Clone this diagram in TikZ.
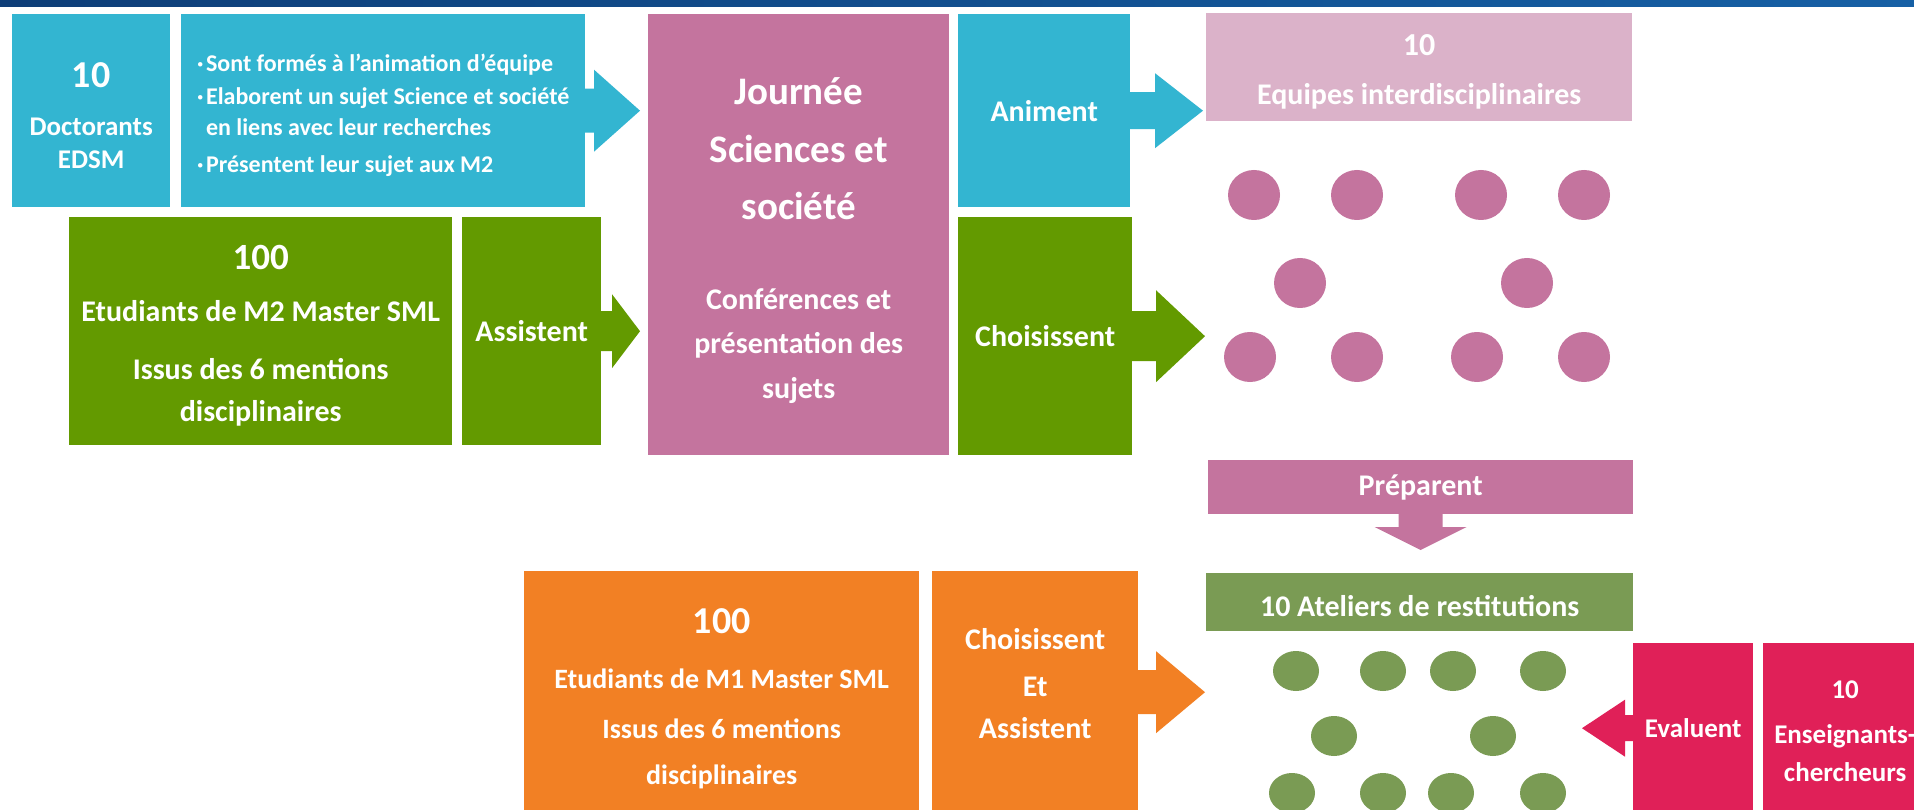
\documentclass[tikz,border=0pt]{standalone}
\usepackage{fontspec}
\setmainfont{Carlito}
\usetikzlibrary{calc,shapes.geometric}
\definecolor{cyanc}{RGB}{51,181,209}
\definecolor{grnc}{RGB}{99,154,0}
\definecolor{mauvec}{RGB}{196,116,158}
\definecolor{lpinkc}{RGB}{219,178,201}
\definecolor{orgc}{RGB}{242,128,36}
\definecolor{olivec}{RGB}{122,155,84}
\definecolor{crimc}{RGB}{224,32,88}
\definecolor{navyA}{RGB}{14,62,120}
\definecolor{navyB}{RGB}{22,96,165}
\newcommand\hs[1]{\rule{0pt}{#1pt}}
\newcommand\ds[1]{\rule[-#1pt]{0pt}{#1pt}}
\newcommand\sz[1]{\fontsize{#1}{#1}\selectfont}
\newcommand\bl{\makebox[9pt][l]{·}}
\newcommand\nbl{\hspace*{9pt}}
\tikzset{
  box/.style={rectangle,inner sep=0pt,anchor=north west,text=white,align=center,
    font=\bfseries\fontsize{30}{44}\selectfont},
  pdot/.style={ellipse,fill=mauvec,minimum width=52pt,minimum height=50pt,inner sep=0pt},
  gdot/.style={ellipse,fill=olivec,minimum width=46pt,minimum height=40pt,inner sep=0pt},
  rarr/.style n args={4}{to path={let \p1=(\tikztostart),\p2=(\tikztotarget) in
    ({\x1+(#4)},{\y1+#1}) -- ({\x2-(#3)},{\y1+#1}) -- ({\x2-(#3)},{\y1+#2}) -- (\x2,\y1)
    -- ({\x2-(#3)},{\y1-#2}) -- ({\x2-(#3)},{\y1-#1}) -- ({\x1+(#4)},{\y1-#1}) -- cycle}},
  darr/.style n args={3}{to path={let \p1=(\tikztostart),\p2=(\tikztotarget) in
    ({\x1+#1},{\y1+3pt}) -- ({\x1+#1},{\y2+#3}) -- ({\x1+#2},{\y2+#3}) -- (\x1,\y2)
    -- ({\x1-#2},{\y2+#3}) -- ({\x1-#1},{\y2+#3}) -- ({\x1-#1},{\y1+3pt}) -- cycle}}
}
\begin{document}
\begin{tikzpicture}[x=1pt,y=-1pt]
\useasboundingbox (0,0) rectangle (1914,810);
\clip (0,0) rectangle (1914,810);
\fill[white] (0,0) rectangle (1914,810);
\shade[left color=navyA,right color=navyB] (0,0) rectangle (1914,7);

% top-left blue
\node[box,fill=cyanc,minimum width=158pt,minimum height=193pt,
  font=\bfseries\fontsize{27}{33}\selectfont] (doc) at (12,14)
  {{\sz{38}\hs{35}10}\\[14.5pt]Doctorants\\EDSM};
\node[box,fill=cyanc,minimum width=404pt,minimum height=193pt,align=left,
  font=\bfseries\fontsize{24}{31}\selectfont] (bul) at (181,14)
  {\hs{26}\bl Sont formés à l’animation d’équipe\\[2pt]
   \bl Elaborent un sujet Science et société\\
   \nbl en liens avec leur recherches\\[6pt]
   \bl Présentent leur sujet aux M2};

% green M2
\node[box,fill=grnc,minimum width=383pt,minimum height=228pt,
  font=\bfseries\fontsize{30}{42}\selectfont] (m2) at (69,217)
  {{\sz{37}\hs{34}100}\\[10pt]Etudiants de M2 Master SML\\[16pt]Issus des 6 mentions\\disciplinaires};
\node[box,fill=grnc,minimum width=139pt,minimum height=228pt] (ass) at (462,217) {Assistent};

% Journee
\node[box,fill=mauvec,minimum width=301pt,minimum height=441pt] (jour) at (648,14)
  {{\sz{39}\hs{38}Journée}\\[14pt]{\sz{39}Sciences et}\\[13pt]{\sz{39}société}\\[46pt]Conférences et\\présentation des\\[1pt]sujets};

% Animent / Choisissent
\node[box,fill=cyanc,minimum width=172pt,minimum height=193pt] (anim) at (958,14) {Animent};
\node[box,fill=grnc,minimum width=174pt,minimum height=238pt] (chois) at (958,217) {Choisissent};

% Equipes
\node[box,fill=lpinkc,minimum width=426pt,minimum height=108pt,
  font=\bfseries\fontsize{30}{36}\selectfont] (equip) at (1206,13)
  {{\sz{32}\hs{31}10}\\[13pt]Equipes interdisciplinaires};

% pink dots
\node[pdot] (p1) at (1254,195) {};
\node[pdot] (p2) at (1357,195) {};
\node[pdot] (p3) at (1481,195) {};
\node[pdot] (p4) at (1584,195) {};
\node[pdot] (p5) at (1300,283) {};
\node[pdot] (p6) at (1527,283) {};
\node[pdot] (p7) at (1250,357) {};
\node[pdot] (p8) at (1357,357) {};
\node[pdot] (p9) at (1477,357) {};
\node[pdot] (p10) at (1584,357) {};

% Preparent / Ateliers
\node[box,fill=mauvec,minimum width=425pt,minimum height=54pt] (prep) at (1208,460) {Préparent};
\node[box,fill=olivec,minimum width=427pt,minimum height=58pt] (atel) at (1206,573) {\hs{28}10 Ateliers de restitutions};

% green dots
\node[gdot] (g1) at (1296,671) {};
\node[gdot] (g2) at (1383,671) {};
\node[gdot] (g3) at (1453,671) {};
\node[gdot] (g4) at (1543,671) {};
\node[gdot] (g5) at (1334,736) {};
\node[gdot] (g6) at (1493,736) {};
\node[gdot] (g7) at (1292,793) {};
\node[gdot] (g8) at (1383,793) {};
\node[gdot] (g9) at (1451,793) {};
\node[gdot] (g10) at (1543,793) {};

% orange M1
\node[box,fill=orgc,minimum width=395pt,minimum height=242pt,
  font=\bfseries\fontsize{28}{48}\selectfont] (m1) at (524,571)
  {{\sz{38}\hs{37}100}\\[7pt]Etudiants de M1 Master SML\\[2pt]Issus des 6 mentions\\[-2pt]disciplinaires};
\node[box,fill=orgc,minimum width=206pt,minimum height=242pt] (cea) at (932,571)
  {Choisissent\\[3pt]Et\\[-2pt]Assistent\ds{18}};

% crimson
\node[box,fill=crimc,minimum width=120pt,minimum height=170pt,
  font=\bfseries\fontsize{27}{38}\selectfont] (eval) at (1633,643) {Evaluent};
\node[box,fill=crimc,minimum width=164pt,minimum height=176pt,
  font=\bfseries\fontsize{27}{38}\selectfont] (ens) at (1763,643)
  {10\\[7pt]Enseignants-\\chercheurs};

% arrow tips
\coordinate (tb) at (640,110.5);
\coordinate (ta) at (1203,110.5);
\coordinate (tas) at (640,331);
\coordinate (tc) at (1205,336);
\coordinate (to) at (1205,692);
\coordinate (te) at (1582,728);
\coordinate (tp) at (1420.5,550);

\path[fill=cyanc,rarr={22pt}{41pt}{46pt}{-3pt}] (bul.east) to (tb);
\path[fill=cyanc,rarr={18.5pt}{37.5pt}{48pt}{-3pt}] (anim.east) to (ta);
\path[fill=grnc,rarr={20pt}{37pt}{28pt}{-3pt}] (ass.east) to (tas);
\path[fill=grnc,rarr={25pt}{46pt}{49pt}{-3pt}] (chois.east) to (tc);
\path[fill=orgc,rarr={22pt}{41pt}{49pt}{-3pt}] (cea.east) to (to);
\path[fill=crimc,rarr={13pt}{28.5pt}{-43pt}{3pt}] (eval.west) to (te);
\path[fill=mauvec,darr={22pt}{46pt}{23pt}] (prep.south) to (tp);
\end{tikzpicture}
\end{document}
